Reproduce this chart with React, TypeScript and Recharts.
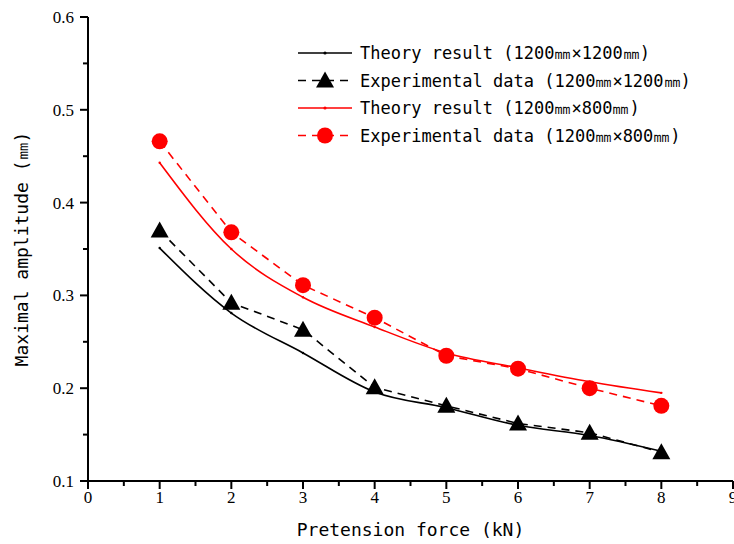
import React from 'react';
import { LineChart, Line, XAxis, YAxis, Legend } from 'recharts';

// pretension force (kN)
const forces = [1, 2, 3, 4, 5, 6, 7, 8];
// maximal amplitude (mm)
const theory1200 = [0.351, 0.281, 0.238, 0.196, 0.179, 0.16, 0.149, 0.132];
const exp1200 = [0.37, 0.292, 0.263, 0.201, 0.181, 0.162, 0.152, 0.131];
const theory800 = [0.443, 0.35, 0.298, 0.266, 0.238, 0.222, 0.207, 0.195];
const exp800 = [0.466, 0.368, 0.311, 0.276, 0.235, 0.221, 0.2, 0.181];

const xTicks = [0, 0.5, 1, 1.5, 2, 2.5, 3, 3.5, 4, 4.5, 5, 5.5, 6, 6.5, 7, 7.5, 8, 8.5, 9];
const yTicks = [0.1, 0.15, 0.2, 0.25, 0.3, 0.35, 0.4, 0.45, 0.5, 0.55, 0.6];

const seriesNames = [
  'Theory result (1200㎜×1200㎜)',
  'Experimental data (1200㎜×1200㎜)',
  'Theory result (1200㎜×800㎜)',
  'Experimental data (1200㎜×800㎜)',
];

const data = forces.map((f, i) => ({
  force: f,
  t1200: theory1200[i],
  e1200: exp1200[i],
  t800: theory800[i],
  e800: exp800[i],
}));

const RED = '#ff0000';
const MONO = '"DejaVu Sans Mono", "Liberation Mono", monospace';
const SERIF = '"Liberation Serif", "Times New Roman", serif';

const Triangle = (props: any) => {
  const { cx, cy } = props;
  if (cx == null || cy == null) return null;
  return <polygon points={`${cx},${cy - 9} ${cx - 9},${cy + 7} ${cx + 9},${cy + 7}`} fill="#000" />;
};

const XTick = (props: any) => {
  const { x, y, payload } = props;
  const major = Number.isInteger(payload.value);
  return (
    <g>
      <line x1={x} y1={y} x2={x} y2={y + (major ? 8 : 5)} stroke="#000" strokeWidth={2} />
      {major && (
        <text x={x} y={y + 22} textAnchor="middle" fontFamily={SERIF} fontSize={17} fill="#000">
          {payload.value}
        </text>
      )}
    </g>
  );
};

const YTick = (props: any) => {
  const { x, y, payload } = props;
  const major = Math.round(payload.value * 100) % 10 === 0;
  return (
    <g>
      <line x1={x} y1={y} x2={x - (major ? 8 : 5)} y2={y} stroke="#000" strokeWidth={2} />
      {major && (
        <text x={x - 14} y={y + 6} textAnchor="end" fontFamily={SERIF} fontSize={17} fill="#000">
          {payload.value.toFixed(1)}
        </text>
      )}
    </g>
  );
};

const LegendBox = () => {
  const rowH = 27.5;
  return (
    <svg width={420} height={120}>
      {seriesNames.map((name, i) => {
        const y = 13 + i * rowH;
        const color = i < 2 ? '#000' : RED;
        const dashed = i % 2 === 1;
        return (
          <g key={name}>
            <line
              x1={8}
              x2={62}
              y1={y}
              y2={y}
              stroke={color}
              strokeWidth={1.6}
              strokeDasharray={dashed ? '8 6' : undefined}
            />
            {i === 0 || i === 2 ? <circle cx={35} cy={y} r={1.6} fill={color} /> : null}
            {i === 1 ? (
              <polygon points={`35,${y - 9} 26,${y + 7} 44,${y + 7}`} fill="#000" />
            ) : null}
            {i === 3 ? <circle cx={35} cy={y} r={8} fill={RED} /> : null}
            <text x={70} y={y + 6} fontFamily={MONO} fontSize={17} fill="#000">
              {name}
            </text>
          </g>
        );
      })}
    </svg>
  );
};

export default function App() {
  return (
    <div style={{ position: 'fixed', left: 0, top: 0, background: '#fff' }}>
      <LineChart width={734} height={544} data={data} margin={{ top: 17, right: 1, bottom: 0, left: 0 }}>
        <XAxis
          dataKey="force"
          type="number"
          domain={[0, 9]}
          ticks={xTicks}
          interval={0}
          height={63}
          tickSize={0}
          tickMargin={0}
          tickLine={false}
          tick={<XTick />}
          axisLine={{ stroke: '#000', strokeWidth: 2 }}
          label={{
            value: 'Pretension force (kN)',
            position: 'insideBottom',
            offset: 8,
            style: { fontFamily: MONO, fontSize: 18, fill: '#000' },
          }}
        />
        <XAxis
          xAxisId="top"
          orientation="top"
          dataKey="force"
          type="number"
          domain={[0, 9]}
          height={0}
          tick={false}
          tickLine={false}
          axisLine={{ stroke: '#000', strokeWidth: 1.5 }}
        />
        <YAxis
          type="number"
          domain={[0.1, 0.6]}
          ticks={yTicks}
          interval={0}
          width={88}
          tickSize={0}
          tickMargin={0}
          tickLine={false}
          tick={<YTick />}
          axisLine={{ stroke: '#000', strokeWidth: 2 }}
          label={{
            value: 'Maximal amplitude (㎜)',
            angle: -90,
            position: 'insideLeft',
            offset: 22,
            style: { fontFamily: MONO, fontSize: 18, fill: '#000', textAnchor: 'middle' },
          }}
        />
        <YAxis
          yAxisId="right"
          orientation="right"
          domain={[0.1, 0.6]}
          width={0}
          tick={false}
          tickLine={false}
          axisLine={{ stroke: '#000', strokeWidth: 1.5 }}
        />
        <Legend
          layout="horizontal"
          verticalAlign="middle"
          align="center"
          wrapperStyle={{ left: 290, top: 40, width: 420, height: 120 }}
          content={<LegendBox />}
        />
        <Line
          dataKey="t1200"
          name={seriesNames[0]}
          type="monotone"
          stroke="#000"
          strokeWidth={1.6}
          dot={{ r: 1.2, fill: '#000', stroke: 'none' }}
          isAnimationActive={false}
        />
        <Line
          dataKey="e1200"
          name={seriesNames[1]}
          type="linear"
          stroke="#000"
          strokeWidth={1.6}
          strokeDasharray="8 6"
          dot={<Triangle />}
          isAnimationActive={false}
        />
        <Line
          dataKey="t800"
          name={seriesNames[2]}
          type="monotone"
          stroke={RED}
          strokeWidth={1.6}
          dot={{ r: 1.2, fill: RED, stroke: 'none' }}
          isAnimationActive={false}
        />
        <Line
          dataKey="e800"
          name={seriesNames[3]}
          type="linear"
          stroke={RED}
          strokeWidth={1.6}
          strokeDasharray="8 6"
          dot={{ r: 8, fill: RED, stroke: 'none' }}
          isAnimationActive={false}
        />
      </LineChart>
    </div>
  );
}
